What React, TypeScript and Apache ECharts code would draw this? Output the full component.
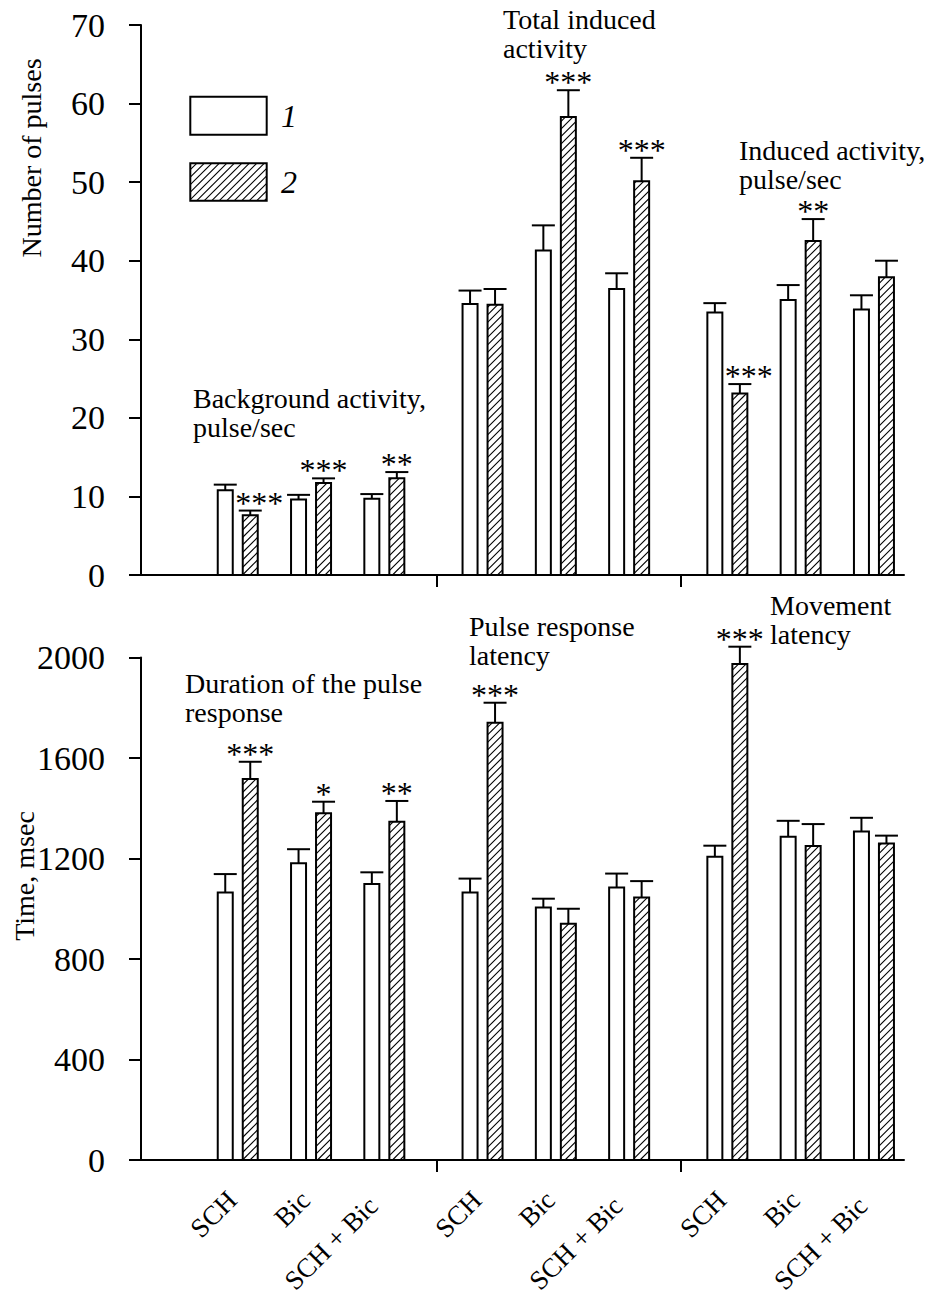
import React, { useEffect, useRef } from "react";
import * as echarts from "echarts";

// Treatment groups, three per section
const groupNames = ["SCH", "Bic", "SCH + Bic", "SCH", "Bic", "SCH + Bic", "SCH", "Bic", "SCH + Bic"];
const legendLabels = ["1", "2"];

// Upper panel: number of pulses (mean and SEM)
const pulsesControl = [10.8, 9.6, 9.7, 34.5, 41.3, 36.4, 33.4, 35.0, 33.8];
const pulsesControlErr = [0.7, 0.6, 0.6, 1.7, 3.2, 2.0, 1.2, 1.9, 1.8];
const pulsesTreated = [7.6, 11.7, 12.3, 34.4, 58.3, 50.1, 23.1, 42.5, 37.9];
const pulsesTreatedErr = [0.6, 0.6, 0.8, 2.0, 3.4, 3.0, 1.2, 2.8, 2.1];
const pulsesSig = ["***", "***", "**", "", "***", "***", "***", "**", ""];

// Lower panel: time, msec (mean and SEM)
const timeControl = [1065, 1181, 1099, 1065, 1005, 1085, 1207, 1287, 1307];
const timeControlErr = [73, 56, 46, 55, 35, 55, 44, 63, 55];
const timeTreated = [1516, 1380, 1346, 1740, 940, 1045, 1974, 1250, 1260];
const timeTreatedErr = [69, 46, 83, 80, 60, 65, 69, 87, 31];
const timeSig = ["***", "*", "**", "***", "", "", "***", "", ""];

// Axis scales
const pulsesAxis = { min: 0, max: 70, interval: 10 };
const timeAxis = { min: 0, max: 2000, interval: 400 };

// Section captions
const topCaptions = [
  ["Background activity,", "pulse/sec"],
  ["Total induced", "activity"],
  ["Induced activity,", "pulse/sec"],
];
const bottomCaptions = [
  ["Duration of the pulse", "response"],
  ["Pulse response", "latency"],
  ["Movement", "latency"],
];

// ---- layout ----
const FONT = '"Liberation Serif", "Times New Roman", serif';
const SECTION_STEP = 3.34;
const X_MIN = -1.32;
const X_MAX = 9.09;
const BAR_W = 15; // path width, stroke adds 1px each side
const BAR_OFFSET = 12.5;
const CAP_HALF = 11.5;
const HATCH_STEP = 7.5;
const STAR_RISE = 8;
const X_LABEL_SIZE = 27;

const groupPos = (k: number) => Math.floor(k / 3) * SECTION_STEP + (k % 3);
const positions = groupNames.map((_, k) => groupPos(k));
const dividers = [1, 2].map((s) => s * SECTION_STEP - (SECTION_STEP - 2) / 2 + 0.04);

function nameAt(v: number) {
  const k = positions.findIndex((p) => Math.abs(p - v) < 1e-6);
  if (k < 0) return "";
  const name = groupNames[k];
  // longer combined labels sit a little further out along their slant
  return name.length > 4 ? `{long|${name}}` : `{short|${name}}`;
}

// "/" hatching strokes clipped to a rectangle
function hatchLines(x0: number, y0: number, x1: number, y1: number, step: number) {
  const segs: number[][] = [];
  const cEnd = x1 + y1;
  let c = Math.ceil((x0 + y0) / step) * step;
  for (; c < cEnd; c += step) {
    const lo = Math.max(x0, c - y1);
    const hi = Math.min(x1, c - y0);
    if (hi - lo > 0.3) segs.push([lo, c - lo, hi, c - hi]);
  }
  return segs;
}

function makeRender(
  errs: number[],
  sig: string[] | null,
  hatched: boolean,
  otherValues: number[],
  otherErrs: number[],
  values: number[]
) {
  return (params: any, api: any) => {
    const i = params.dataIndex;
    const x = api.value(0);
    const v = api.value(1);
    const top = api.coord([x, v]);
    const base = api.coord([x, 0]);
    const cx = top[0] + (hatched ? BAR_OFFSET : -BAR_OFFSET);
    const left = cx - BAR_W / 2;
    const right = cx + BAR_W / 2;
    const capY = api.coord([x, v + errs[i]])[1];
    const children: any[] = [
      {
        type: "rect",
        shape: { x: left, y: top[1], width: BAR_W, height: base[1] - top[1] },
        style: { fill: "#fff", stroke: "none" },
      },
    ];
    if (hatched) {
      hatchLines(left, top[1], right, base[1], HATCH_STEP).forEach((s) =>
        children.push({
          type: "line",
          shape: { x1: s[0], y1: s[1], x2: s[2], y2: s[3] },
          style: { stroke: "#000", lineWidth: 1.1 },
        })
      );
    }
    children.push({
      type: "rect",
      shape: { x: left, y: top[1], width: BAR_W, height: base[1] - top[1] },
      style: { fill: "none", stroke: "#000", lineWidth: 2 },
    });
    children.push({
      type: "line",
      shape: { x1: cx, y1: top[1], x2: cx, y2: capY },
      style: { stroke: "#000", lineWidth: 2 },
    });
    children.push({
      type: "line",
      shape: { x1: cx - CAP_HALF, y1: capY, x2: cx + CAP_HALF, y2: capY },
      style: { stroke: "#000", lineWidth: 2 },
    });
    if (sig && sig[i]) {
      const otherCap = otherValues[i] + otherErrs[i];
      const shift = values[i] + errs[i] < otherCap ? 9 : 0;
      children.push({
        type: "text",
        style: {
          text: sig[i],
          x: cx + shift,
          y: capY - STAR_RISE,
          font: `32px ${FONT}`,
          fill: "#000",
          align: "center",
          verticalAlign: "middle",
        },
      });
    }
    return { type: "group", children };
  };
}

function barSeries(
  grid: number,
  values: number[],
  errs: number[],
  sig: string[] | null,
  hatched: boolean,
  otherValues: number[],
  otherErrs: number[]
) {
  return {
    type: "custom",
    name: hatched ? legendLabels[1] : legendLabels[0],
    xAxisIndex: grid,
    yAxisIndex: grid,
    clip: false,
    encode: { x: 0, y: 1 },
    data: values.map((v, k) => [positions[k], v]),
    renderItem: makeRender(errs, sig, hatched, otherValues, otherErrs, values),
  };
}

const axisLineStyle = { color: "#000", width: 2 };

function xAxisFor(grid: number) {
  return {
    type: "value",
    gridIndex: grid,
    min: X_MIN,
    max: X_MAX,
    splitLine: { show: false },
    axisLine: { show: true, onZero: false, lineStyle: axisLineStyle },
    axisTick: { show: true, customValues: dividers, length: 12, inside: false, lineStyle: axisLineStyle },
    axisLabel:
      grid === 0
        ? { show: false }
        : {
            show: true,
            customValues: positions,
            formatter: (v: number) => nameAt(v),
            rotate: 45,
            margin: 30,
            fontFamily: FONT,
            fontSize: X_LABEL_SIZE,
            color: "#000",
            hideOverlap: false,
            rich: {
              short: { fontFamily: FONT, fontSize: X_LABEL_SIZE, color: "#000", padding: [0, 8, 0, 0] },
              long: { fontFamily: FONT, fontSize: X_LABEL_SIZE, color: "#000", padding: [0, 16, 0, 0] },
            },
          },
  };
}

function yAxisFor(grid: number, scale: { min: number; max: number; interval: number }) {
  return {
    type: "value",
    gridIndex: grid,
    min: scale.min,
    max: scale.max,
    interval: scale.interval,
    splitLine: { show: false },
    axisLine: { show: true, onZero: false, lineStyle: axisLineStyle },
    axisTick: { show: true, length: 12, inside: false, lineStyle: axisLineStyle },
    axisLabel: {
      margin: 36,
      fontFamily: FONT,
      fontSize: 34,
      color: "#000",
      formatter: (v: number) => String(v),
    },
  };
}

function captionText(lines: string[], x: number, y: number) {
  return lines.map((t, j) => ({
    type: "text",
    x,
    y: y + j * 29,
    style: { text: t, font: `28px ${FONT}`, fill: "#000", align: "left", verticalAlign: "middle" },
  }));
}

function legendGraphics() {
  const items: any[] = [];
  const boxes = [
    { y: 96.7, h: 38 },
    { y: 163.3, h: 37.4 },
  ];
  boxes.forEach((b, j) => {
    const x = 190.3;
    const w = 76.4;
    items.push({
      type: "rect",
      shape: { x, y: b.y, width: w, height: b.h },
      style: { fill: "#fff", stroke: "none" },
    });
    if (j === 1) {
      hatchLines(x, b.y, x + w, b.y + b.h, HATCH_STEP).forEach((s) =>
        items.push({
          type: "line",
          shape: { x1: s[0], y1: s[1], x2: s[2], y2: s[3] },
          style: { stroke: "#000", lineWidth: 1.1 },
        })
      );
    }
    items.push({
      type: "rect",
      shape: { x, y: b.y, width: w, height: b.h },
      style: { fill: "none", stroke: "#000", lineWidth: 2 },
    });
    items.push({
      type: "text",
      x: 281,
      y: b.y + b.h / 2,
      style: {
        text: legendLabels[j],
        font: `italic 32px ${FONT}`,
        fill: "#000",
        align: "left",
        verticalAlign: "middle",
      },
    });
  });
  return items;
}

const option = {
  animation: false,
  backgroundColor: "#fff",
  grid: [
    { left: 141, top: 25, width: 763, height: 550, outerBoundsMode: "none", containLabel: false },
    { left: 141, top: 657.5, width: 763, height: 502.5, outerBoundsMode: "none", containLabel: false },
  ],
  xAxis: [xAxisFor(0), xAxisFor(1)],
  yAxis: [yAxisFor(0, pulsesAxis), yAxisFor(1, timeAxis)],
  series: [
    barSeries(0, pulsesControl, pulsesControlErr, null, false, pulsesTreated, pulsesTreatedErr),
    barSeries(0, pulsesTreated, pulsesTreatedErr, pulsesSig, true, pulsesControl, pulsesControlErr),
    barSeries(1, timeControl, timeControlErr, null, false, timeTreated, timeTreatedErr),
    barSeries(1, timeTreated, timeTreatedErr, timeSig, true, timeControl, timeControlErr),
  ],
  graphic: [
    {
      type: "text",
      x: 31,
      y: 158,
      rotation: Math.PI / 2,
      style: { text: "Number of pulses", font: `28px ${FONT}`, fill: "#000", align: "center", verticalAlign: "middle" },
    },
    {
      type: "text",
      x: 24,
      y: 876,
      rotation: Math.PI / 2,
      style: { text: "Time, msec", font: `28px ${FONT}`, fill: "#000", align: "center", verticalAlign: "middle" },
    },
    ...captionText(topCaptions[0], 193, 398),
    ...captionText(topCaptions[1], 503, 19),
    ...captionText(topCaptions[2], 739, 150),
    ...captionText(bottomCaptions[0], 185, 683),
    ...captionText(bottomCaptions[1], 469, 626),
    ...captionText(bottomCaptions[2], 770, 605),
    ...legendGraphics(),
  ],
};

export default function App() {
  const ref = useRef<HTMLDivElement>(null);
  useEffect(() => {
    if (!ref.current) return;
    const chart = echarts.init(ref.current, undefined, { renderer: "svg" });
    chart.setOption(option as any);
    return () => chart.dispose();
  }, []);
  return (
    <div
      ref={ref}
      style={{ position: "absolute", left: 0, top: 0, width: 930, height: 1298, background: "#fff" }}
    />
  );
}
